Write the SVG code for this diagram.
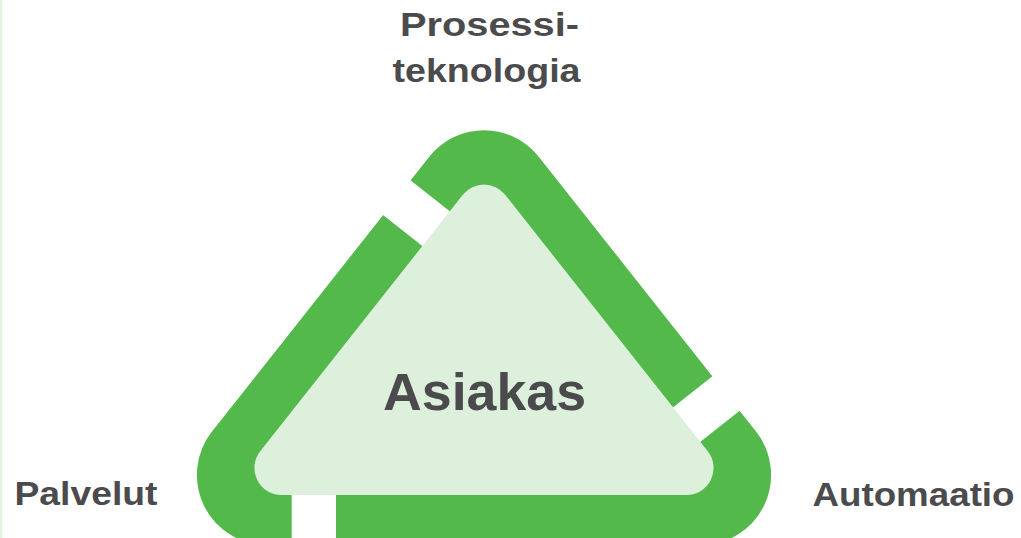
<svg xmlns="http://www.w3.org/2000/svg" width="1021" height="538" viewBox="0 0 1021 538">
  <style>
    .ring { fill: #52b94a; }
    .gap { fill: #ffffff; }
    .core { fill: #dcf0dc; }
    .lbl { font-family: "Liberation Sans", Arial, sans-serif; font-weight: bold; fill: #4b4b4d; }
  </style>
  <rect x="0" y="0" width="1021" height="538" fill="#ffffff"/>
  <rect x="0" y="0" width="2" height="538" fill="#e2f3e2"/>
  <g id="ring">
    <path class="ring" d="M 429.1,156.9 A 70 70 0 0 1 538.9,156.9 L 756,431.6 A 70 70 0 0 1 701.1,545 L 266.9,545 A 70 70 0 0 1 212,431.6 Z"/>
  </g>
  <g id="connectors">
    <polygon class="gap" points="457.7,217.5 430.3,252.2 359.6,196.4 387.0,161.7"/>
    <polygon class="gap" points="665.2,413.6 692.5,448.0 763.1,392.2 735.9,357.8"/>
    <rect class="gap" x="291.7" y="480" width="44.3" height="70"/>
  </g>
  <g id="asiakas">
    <path class="core" d="M 462.8,194.8 A 27 27 0 0 1 505.2,194.8 L 707.8,451.3 A 27 27 0 0 1 686.6,495 L 281.4,495 A 27 27 0 0 1 260.2,451.3 Z"/>
    <text class="lbl" x="383" y="410" font-size="51" textLength="203" lengthAdjust="spacingAndGlyphs">Asiakas</text>
  </g>
  <g id="prosessiteknologia">
    <text class="lbl" x="400" y="35.7" font-size="34" textLength="179" lengthAdjust="spacingAndGlyphs">Prosessi-</text>
    <text class="lbl" x="392.5" y="81.7" font-size="34" textLength="188" lengthAdjust="spacingAndGlyphs">teknologia</text>
  </g>
  <g id="palvelut">
    <text class="lbl" x="14.5" y="505" font-size="34" textLength="143" lengthAdjust="spacingAndGlyphs">Palvelut</text>
  </g>
  <g id="automaatio">
    <text class="lbl" x="812.5" y="505.5" font-size="34" textLength="202" lengthAdjust="spacingAndGlyphs">Automaatio</text>
  </g>
</svg>
